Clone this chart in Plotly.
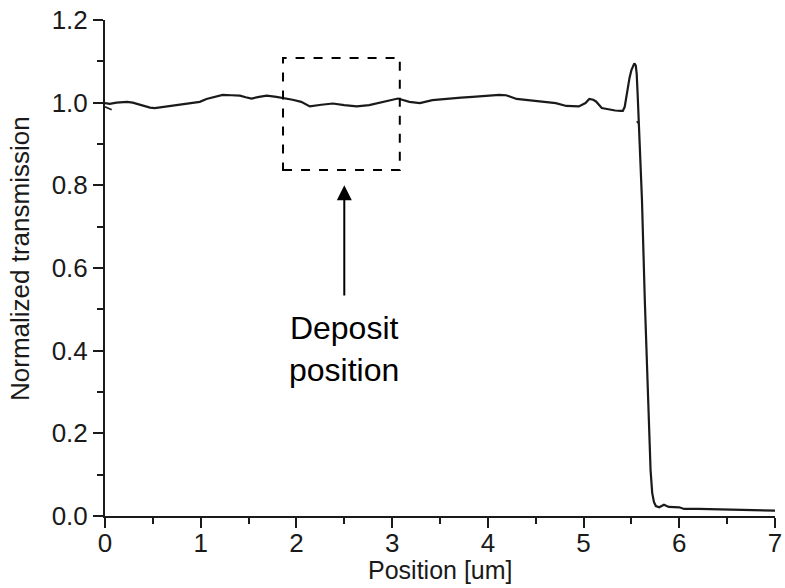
import plotly.graph_objects as go

# Main transmission profile (position in um, normalized transmission)
position = [0.00, 0.05, 0.12, 0.23, 0.29, 0.38, 0.47, 0.52, 0.58, 0.65, 0.73, 0.81, 0.90, 0.99,
            1.06, 1.14, 1.23, 1.32, 1.41, 1.47, 1.53, 1.61, 1.69, 1.79, 1.88, 1.96, 2.05,
            2.14, 2.26, 2.38, 2.50, 2.63, 2.76, 2.85, 2.94, 3.06, 3.18, 3.29, 3.42, 3.51,
            3.60, 3.72, 3.84, 3.98, 4.12, 4.19, 4.30, 4.42, 4.54, 4.63, 4.71, 4.82, 4.95,
            5.02, 5.06, 5.10, 5.13, 5.19, 5.27, 5.33, 5.39, 5.41, 5.43, 5.456, 5.48, 5.50,
            5.52, 5.53, 5.545, 5.555, 5.565, 5.575, 5.59, 5.61, 5.64, 5.685, 5.70, 5.717,
            5.735, 5.755, 5.79, 5.84, 5.89, 6.00, 6.05, 6.20, 6.38, 6.55, 6.73, 6.87, 7.00]
transmission = [0.999, 0.997, 1.000, 1.002, 1.000, 0.994, 0.988, 0.987, 0.989, 0.991, 0.993, 0.996, 0.998, 1.002,
                1.009, 1.013, 1.019, 1.018, 1.017, 1.013, 1.010, 1.014, 1.017, 1.014, 1.011, 1.007, 1.002,
                0.991, 0.995, 0.998, 0.994, 0.991, 0.994, 0.999, 1.005, 1.010, 1.002, 0.999, 1.006, 1.008,
                1.011, 1.012, 1.014, 1.016, 1.019, 1.018, 1.009, 1.006, 1.003, 1.001, 0.999, 0.992, 0.991,
                0.999, 1.009, 1.007, 1.003, 0.987, 0.983, 0.981, 0.980, 0.980, 0.990, 1.031, 1.060, 1.079,
                1.093, 1.095, 1.090, 1.070, 1.020, 0.960, 0.869, 0.765, 0.520, 0.232, 0.111, 0.056,
                0.034, 0.024, 0.021, 0.027, 0.022, 0.021, 0.017, 0.017, 0.016, 0.015, 0.015, 0.014, 0.013]

# Small stray marks in the original trace
stray_x = [0.00, 0.07, None, 5.555, 5.575]
stray_y = [0.990, 0.983, None, 0.955, 0.950]

# Annotation geometry (data units)
box_x = [1.86, 3.08]
box_y = [0.837, 1.108]
arrow_x = 2.5
arrow_tip_y = 0.80
arrow_tail_y = 0.53
label_y = 0.405
label_text = "Deposit<br>position"
x_title = "Position [um]"
y_title = "Normalized transmission"

FONT = "Liberation Sans, Arial, sans-serif"
INK = "#1a1a1a"

fig = go.Figure()
fig.add_trace(go.Scatter(x=position, y=transmission, mode="lines",
                         line=dict(color=INK, width=2.2), showlegend=False))
fig.add_trace(go.Scatter(x=stray_x, y=stray_y, mode="lines",
                         line=dict(color=INK, width=1.6), showlegend=False))

fig.add_shape(type="rect", xref="x", yref="y", x0=box_x[0], x1=box_x[1], y0=box_y[0], y1=box_y[1],
              line=dict(color="black", width=2, dash="dash"))
fig.add_annotation(x=arrow_x, y=arrow_tip_y, ax=arrow_x, ay=arrow_tail_y, xref="x", yref="y",
                   axref="x", ayref="y", text="", showarrow=True, arrowhead=2, arrowsize=1.5,
                   arrowwidth=2, arrowcolor="black")
fig.add_annotation(x=arrow_x, y=label_y, xref="x", yref="y", text=label_text, showarrow=False,
                   font=dict(family=FONT, size=32, color="black"), align="center")

# Axis titles placed as annotations
fig.add_annotation(x=0.5, y=-0.108, xref="paper", yref="paper", text=x_title, showarrow=False,
                   xanchor="center", yanchor="middle", font=dict(family=FONT, size=25, color=INK))
fig.add_annotation(x=-0.127, y=0.52, xref="paper", yref="paper", text=y_title, showarrow=False,
                   textangle=-90, xanchor="center", yanchor="middle",
                   font=dict(family=FONT, size=26, color=INK))

axis_common = dict(showline=True, linecolor=INK, linewidth=2, ticks="outside",
                   ticklen=10, tickwidth=2, tickcolor=INK, showgrid=False, zeroline=False,
                   tickfont=dict(family=FONT, size=26, color=INK), mirror=False, automargin=False)

fig.update_xaxes(range=[0, 7], dtick=1, tick0=0, ticklabelstandoff=-7,
                 minor=dict(dtick=0.5, ticklen=6, tickwidth=2, tickcolor=INK, ticks="outside"),
                 **axis_common)
fig.update_yaxes(range=[0, 1.2], dtick=0.2, tick0=0, tickformat=".1f",
                 minor=dict(dtick=0.1, ticklen=6, tickwidth=2, tickcolor=INK, ticks="outside"),
                 **axis_common)

fig.update_layout(width=785, height=588, margin=dict(l=105, r=10, t=20, b=72),
                  paper_bgcolor="white", plot_bgcolor="white")

fig.write_html("out.html", config={"displayModeBar": False},
               post_script="document.body.style.margin='0px';document.body.style.overflow='hidden';")
